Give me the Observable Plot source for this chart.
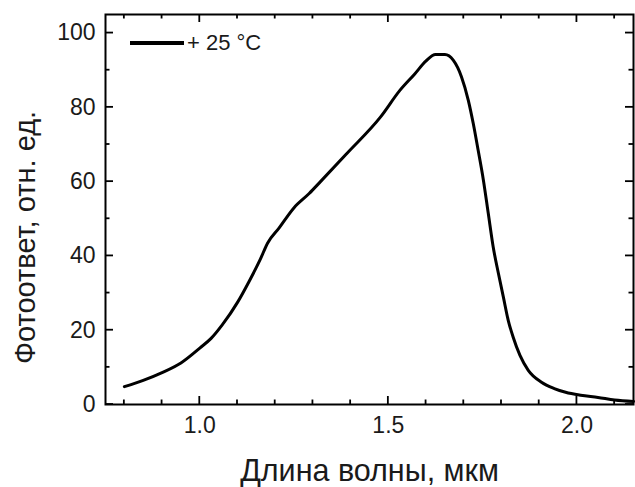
<!DOCTYPE html>
<html><head><meta charset="utf-8">
<script src="https://cdn.jsdelivr.net/npm/d3@7"></script>
<script src="https://cdn.jsdelivr.net/npm/@observablehq/plot@0.6"></script>
<style>
body{margin:0;background:#fff;font-family:"Liberation Sans",Arial,sans-serif}
#wrap{position:relative;width:635px;height:487px}
#legend{position:absolute;left:130px;top:30px;display:flex;align-items:center;font-size:22px;color:#1a1a1a;white-space:pre}
#legend .ln{display:inline-block;width:54px;height:4px;background:#000;margin-right:3px}
</style></head><body>
<div id="wrap"><div id="legend"><span class="ln"></span><span id="legtext"></span></div></div>
<script>
const wavelength = [0.80,0.85,0.90,0.95,1.00,1.03,1.06,1.10,1.13,1.16,1.18,1.21,1.25,1.29,1.32,1.39,1.48,1.53,1.57,1.60,1.625,1.65,1.672,1.694,1.712,1.725,1.738,1.752,1.765,1.778,1.792,1.805,1.818,1.831,1.849,1.871,1.906,1.94,1.97,2.01,2.056,2.10,2.15];
const response   = [4.8,6.5,8.6,11.2,15.2,17.8,21.5,27.5,33.0,39.0,43.5,47.5,53.0,56.8,60.0,67.6,77.5,84.5,89.0,92.5,94.2,94.2,92.7,88.2,81.9,75.7,68.5,60.4,51.4,42.4,35.2,28.9,22.6,18.1,13.2,9.2,6.0,4.3,3.3,2.5,1.9,1.2,0.8];
const xMajorTicks = [1.0,1.5,2.0];
const xMinorTicks = [0.8,0.9,1.1,1.2,1.3,1.4,1.6,1.7,1.8,1.9,2.1];
const yMajorTicks = [0,20,40,60,80,100];
const yMinorTicks = [10,30,50,70,90];
const xTitle = "Длина волны, мкм";
const yTitle = "Фотоответ, отн. ед.";
const legendLabel = "+ 25 °C";

const W = 635, H = 487, mL = 105, mR = 2, mT = 14, mB = 83;
const data = wavelength.map((x,i)=>({x, y: response[i]}));

const chart = Plot.plot({
  width:W, height:H,
  marginLeft:mL, marginRight:mR, marginTop:mT, marginBottom:mB,
  style:{fontFamily:'"Liberation Sans", Arial, sans-serif', fontSize:"23px", color:"#1a1a1a", background:"#fff"},
  x:{domain:[0.75,2.15]},
  y:{domain:[0,105]},
  marks:[
    Plot.axisX(xMajorTicks, {anchor:"bottom", tickSize:0, tickPadding:12, tickFormat:d=>d.toFixed(1), label:null, fontSize:23}),
    Plot.axisY(yMajorTicks, {anchor:"left", tickSize:0, tickPadding:10, tickFormat:d=>String(d), label:null, fontSize:23}),
    Plot.frame({stroke:"#000", strokeWidth:2}),
    Plot.line(data, {x:"x", y:"y", stroke:"#000", strokeWidth:3, curve:"monotone-x"}),
    Plot.text([xTitle], {text:d=>d, frameAnchor:"bottom", dy:76, fontSize:30.5, fill:"#1a1a1a"}),
    Plot.text([yTitle], {text:d=>d, frameAnchor:"left", textAnchor:"middle", rotate:-90, dx:-80, dy:28, fontSize:29, fill:"#1a1a1a"})
  ]
});

// inward tick marks on all four sides, positioned through Plot's own scales
const sx = chart.scale("x"), sy = chart.scale("y");
const x0 = mL, x1 = W - mR, y0 = mT, y1 = H - mB;
const g = d3.select(chart).append("g").attr("stroke", "#000").attr("stroke-width", 1.8).attr("fill", "none");
for (const [ticks, size] of [[xMajorTicks,8],[xMinorTicks,4.5]]) {
  for (const t of ticks) {
    const px = sx.apply(t);
    g.append("line").attr("x1", px).attr("x2", px).attr("y1", y1).attr("y2", y1 - size);
    g.append("line").attr("x1", px).attr("x2", px).attr("y1", y0).attr("y2", y0 + size);
  }
}
for (const [ticks, size] of [[yMajorTicks,8],[yMinorTicks,4.5]]) {
  for (const t of ticks) {
    const py = sy.apply(t);
    g.append("line").attr("y1", py).attr("y2", py).attr("x1", x0).attr("x2", x0 + size);
    g.append("line").attr("y1", py).attr("y2", py).attr("x1", x1).attr("x2", x1 - size);
  }
}

document.getElementById("wrap").prepend(chart);
document.getElementById("legtext").textContent = legendLabel;
</script>
</body></html>
